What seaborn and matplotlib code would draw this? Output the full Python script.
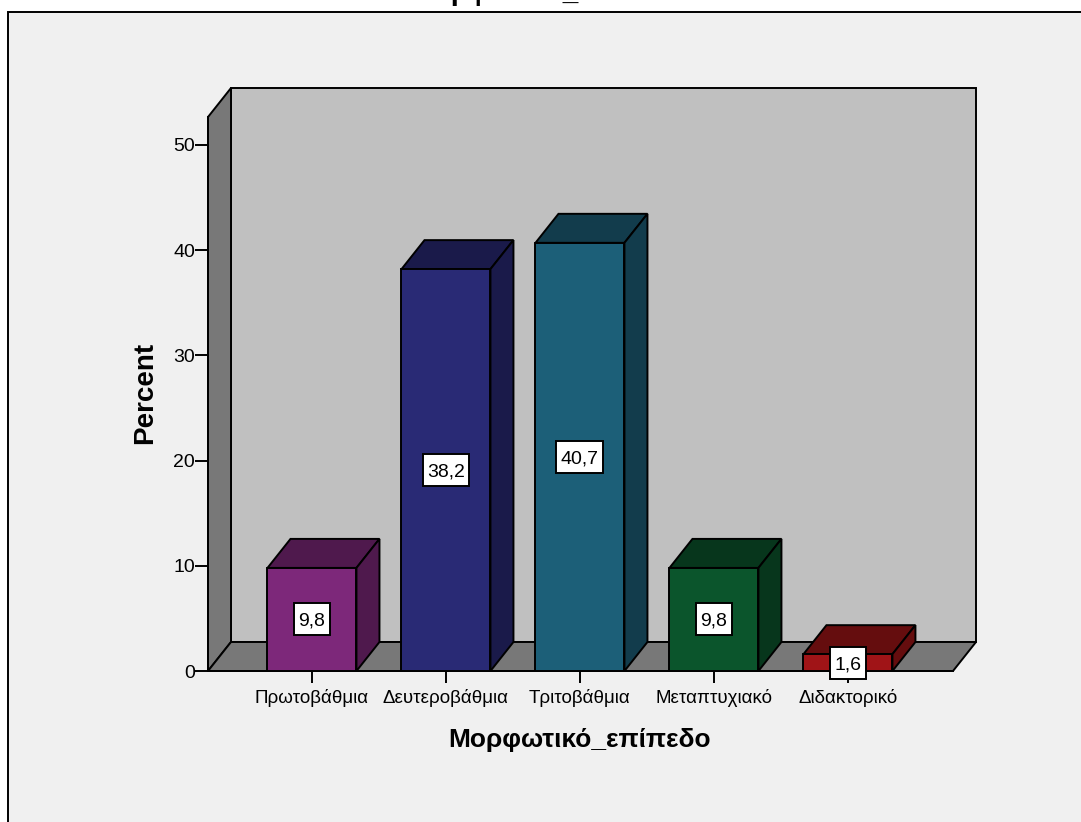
import numpy as np
import pandas as pd
import matplotlib
matplotlib.use("agg")
import matplotlib.pyplot as plt
from matplotlib.patches import Polygon, Rectangle
from matplotlib.transforms import IdentityTransform
from matplotlib.colors import to_rgb
import seaborn as sns

categories = ["Πρωτοβάθμια", "Δευτεροβάθμια", "Τριτοβάθμια", "Μεταπτυχιακό", "Διδακτορικό"]
percents = [9.8, 38.2, 40.7, 9.8, 1.6]
value_labels = ["9,8", "38,2", "40,7", "9,8", "1,6"]
colors = ["#7d287a", "#292a75", "#1c5f78", "#0b552c", "#a01417"]
y_ticks = [0, 10, 20, 30, 40, 50]

W, H = 1081, 822
DX, DY = 23, 29  # depth of the fake 3d box, pixels
FONT = "Liberation Sans"
LW = 1.4

def px_y(y):
    return 1 - y / H

def depth_face(ax, pts, trans, color, z):
    # first half of pts stays in front, second half is pushed back
    xy = trans.transform(pts)
    xy[len(xy) // 2:] += (DX, DY)
    ax.add_patch(Polygon(xy, closed=True, transform=IdentityTransform(), facecolor=color,
                         edgecolor="black", linewidth=LW, zorder=z, clip_on=False,
                         joinstyle="miter"))

def main():
    sns.set_style("white")
    plt.rcParams["font.family"] = [FONT, "DejaVu Sans"]

    df = pd.DataFrame({"level": categories, "percent": percents})

    fig = plt.figure(figsize=(W / 100, H / 100), dpi=100, facecolor="white")
    fig.add_artist(Rectangle((8 / W, -0.1), 1.2, px_y(12) + 0.1, transform=fig.transFigure,
                             facecolor="#f0f0f0", edgecolor="black", linewidth=LW, zorder=-1))
    ax = fig.add_axes([208 / W, px_y(671), 745 / W, (671 - 117) / H])
    ax.patch.set_visible(False)

    sns.barplot(data=df, x="level", y="percent", hue="level", order=categories,
                hue_order=categories, palette=colors, saturation=1, width=0.664,
                edgecolor="black", linewidth=LW, legend=False, zorder=3, ax=ax)
    ax.set_xlim(-0.776, 4.784)
    ax.set_ylim(0, 52.66)

    # walls and floor of the box
    ta = ax.transAxes
    depth_face(ax, [(0, 0), (0, 1), (0, 1), (0, 0)], ta, "#787878", 0.6)
    xy = ta.transform([(0, 0), (1, 1)])
    xy += (DX, DY)
    ax.add_patch(Rectangle(xy[0], xy[1, 0] - xy[0, 0], xy[1, 1] - xy[0, 1],
                           transform=IdentityTransform(), facecolor="#c0c0c0", edgecolor="black",
                           linewidth=LW, zorder=0.5, clip_on=False))
    depth_face(ax, [(1, 0), (0, 0), (0, 0), (1, 0)], ta, "#787878", 0.7)

    # top and side of each bar, value box in the middle of it
    renderer = fig.canvas.get_renderer()
    bars = [p for p in ax.patches if p.get_zorder() == 3]
    bars = sorted(bars, key=lambda p: p.get_x())
    for bar, label, color in zip(bars, value_labels, colors):
        x0, w, h = bar.get_x(), bar.get_width(), bar.get_height()
        dark = tuple(np.array(to_rgb(color)) * 0.63)
        depth_face(ax, [(x0 + w, h), (x0, h), (x0, h), (x0 + w, h)], ax.transData, dark, 2)
        depth_face(ax, [(x0 + w, 0), (x0 + w, h), (x0 + w, h), (x0 + w, 0)], ax.transData, dark, 2)
        t = ax.text(x0 + w / 2, h / 2, label, ha="center", va="center_baseline", fontsize=14,
                    color="black", zorder=6, clip_on=False)
        box_w = t.get_window_extent(renderer).width + 9
        cx, cy = ax.transData.transform((x0 + w / 2, h / 2))
        ax.add_patch(Rectangle((cx - box_w / 2, cy - 16), box_w, 32, transform=IdentityTransform(),
                               facecolor="white", edgecolor="black", linewidth=LW, zorder=5,
                               clip_on=False))

    sns.despine(ax=ax, top=True, right=True)
    for side in ["left", "bottom"]:
        ax.spines[side].set_linewidth(LW)
        ax.spines[side].set_color("black")
        ax.spines[side].set_zorder(2.5)

    ax.set_yticks(y_ticks)
    ax.tick_params(axis="y", length=9.4, width=LW, color="black", labelsize=14, pad=0,
                   left=True, labelcolor="black")
    ax.tick_params(axis="x", length=8.5, width=LW, color="black", labelsize=13.5, pad=4.5,
                   bottom=True, labelcolor="black")
    ax.set_xlabel("Μορφωτικό_επίπεδο", fontsize=19, fontweight="bold", color="black")
    ax.xaxis.set_label_coords((580 - 208) / 745, (671 - 728) / 554)
    ax.set_ylabel("Percent", fontsize=20, fontweight="bold", color="black")
    ax.yaxis.set_label_coords((158 - 208) / 745, (671 - 393) / 554)

    fig.text(550 / W, px_y(6), "Μορφωτικό_επίπεδο", ha="center", va="bottom", fontsize=20,
             fontweight="bold", color="black")

    fig.savefig("out.png", dpi=100, facecolor="white")
    plt.close(fig)

if __name__ == "__main__":
    main()
